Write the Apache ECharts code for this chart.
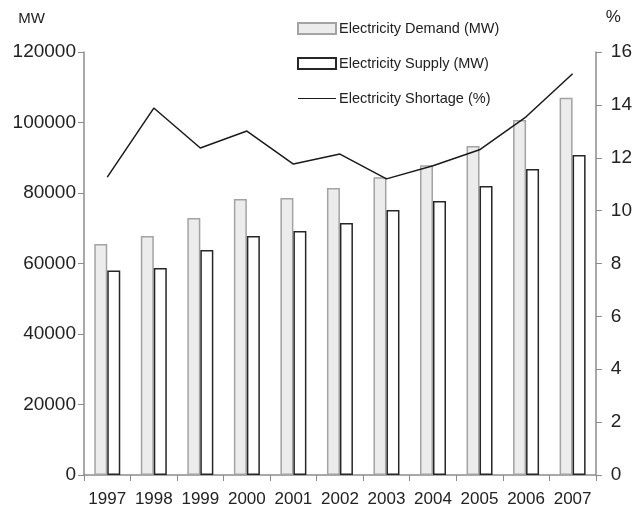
<!DOCTYPE html>
<html>
<head>
<meta charset="utf-8">
<script src="https://cdn.jsdelivr.net/npm/echarts@6/dist/echarts.min.js"></script>
<style>
  html, body { margin: 0; padding: 0; background: #fff; }
  #chart { width: 635px; height: 516px; }
</style>
</head>
<body>
<div id="chart"></div>
<script>
// Yearly electricity figures
const years = ['1997', '1998', '1999', '2000', '2001', '2002', '2003', '2004', '2005', '2006', '2007'];
const demandMW = [65500, 67800, 72900, 78300, 78600, 81400, 84500, 87900, 93300, 100700, 107000];
const supplyMW = [58000, 58700, 63800, 67800, 69200, 71500, 75200, 77700, 82000, 86800, 90800];
const shortagePct = [11.27, 13.88, 12.37, 13.01, 11.76, 12.14, 11.2, 11.7, 12.3, 13.55, 15.18];
const mwTicks = [0, 20000, 40000, 60000, 80000, 100000, 120000];
const pctTicks = [0, 2, 4, 6, 8, 10, 12, 14, 16];

const FONT = 'Liberation Sans';
const axisGray = '#8c8c8c';
const lineColor = '#1a1a1a';

const chart = echarts.init(document.getElementById('chart'), null, { renderer: 'canvas' });

chart.setOption({
  animation: false,
  textStyle: { fontFamily: FONT, color: '#222' },
  grid: { left: 84, right: 39, top: 52, bottom: 41, containLabel: false },
  legend: {
    orient: 'vertical',
    left: 292,
    top: 16,
    itemWidth: 38,
    itemHeight: 11,
    itemGap: 20,
    textStyle: { fontFamily: FONT, fontSize: 14.5, color: '#222', padding: [0, 0, 0, -2] },
    data: [
      { name: 'Electricity Demand (MW)', icon: 'rect' },
      { name: 'Electricity Supply (MW)', icon: 'rect' },
      {
        name: 'Electricity Shortage (%)',
        icon: 'path://M0,5 L40,5 L40,6.2 L0,6.2 Z',
        itemStyle: { color: lineColor, borderWidth: 0 }
      }
    ]
  },
  xAxis: {
    type: 'category',
    data: years,
    boundaryGap: true,
    axisLine: { lineStyle: { color: axisGray, width: 1.5 } },
    axisTick: { show: true, length: 6, lineStyle: { color: axisGray } },
    axisLabel: { fontFamily: FONT, fontSize: 17, color: '#222', margin: 16, interval: 0 }
  },
  yAxis: [
    {
      type: 'value',
      min: 0, max: mwTicks[mwTicks.length - 1], interval: mwTicks[1] - mwTicks[0],
      name: 'MW',
      nameLocation: 'end',
      nameGap: 26,
      nameTextStyle: { fontFamily: FONT, fontSize: 15, color: '#222', align: 'right', padding: [0, 39, 0, 0] },
      axisLine: { show: true, lineStyle: { color: axisGray, width: 1.5 } },
      axisTick: { show: true, length: 6, lineStyle: { color: axisGray } },
      axisLabel: { fontFamily: FONT, fontSize: 19, color: '#222', margin: 8, formatter: (v) => String(v) },
      splitLine: { show: false }
    },
    {
      type: 'value',
      min: 0, max: pctTicks[pctTicks.length - 1], interval: pctTicks[1] - pctTicks[0],
      name: '%',
      nameLocation: 'end',
      nameGap: 26,
      nameTextStyle: { fontFamily: FONT, fontSize: 17, color: '#222', align: 'left', padding: [0, 0, 0, 10] },
      position: 'right',
      axisLine: { show: true, lineStyle: { color: axisGray, width: 1.5 } },
      axisTick: { show: true, length: 6, lineStyle: { color: axisGray } },
      axisLabel: { fontFamily: FONT, fontSize: 19, color: '#222', margin: 15 },
      splitLine: { show: false }
    }
  ],
  series: [
    {
      name: 'Electricity Demand (MW)',
      type: 'bar',
      yAxisIndex: 0,
      data: demandMW,
      barWidth: 13,
      barGap: '0%',
      itemStyle: { color: '#ececec', borderColor: '#a3a3a3', borderWidth: 1.5 }
    },
    {
      name: 'Electricity Supply (MW)',
      type: 'bar',
      yAxisIndex: 0,
      data: supplyMW,
      barWidth: 13,
      barGap: '0%',
      itemStyle: { color: '#ffffff', borderColor: '#262626', borderWidth: 1.5 }
    },
    {
      name: 'Electricity Shortage (%)',
      type: 'line',
      yAxisIndex: 1,
      data: shortagePct,
      symbol: 'none',
      color: lineColor,
      itemStyle: { color: lineColor },
      lineStyle: { color: lineColor, width: 1.5 },
      z: 5
    }
  ]
});
</script>
</body>
</html>
